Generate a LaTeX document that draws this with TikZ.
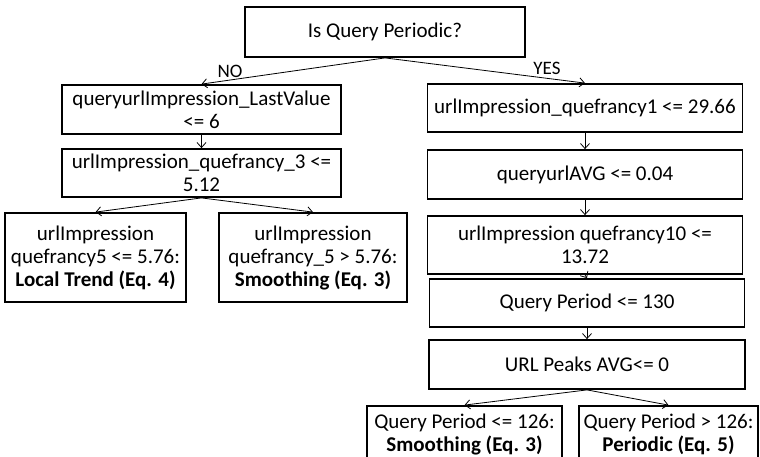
\documentclass[tikz,border=0pt]{standalone}
\usepackage{fontspec}
\setmainfont{Carlito}
\usetikzlibrary{arrows.meta}
\begin{document}
\begin{tikzpicture}[x=1pt,y=-1pt,
  box/.style={draw,line width=1.8pt,align=center,inner sep=0pt,font=\fontsize{21}{23}\selectfont},
  conn/.style={line width=0.8pt,-{Straight Barb[length=5pt,width=9pt]}},
  lbl/.style={font=\fontsize{19}{21}\selectfont,inner sep=0pt}]
\useasboundingbox (0,0) rectangle (760,456);
\node[box,minimum width=280pt,minimum height=50pt] (top) at (385,32) {Is Query Periodic?};
\node[box,minimum width=279pt,minimum height=49pt] (l1) at (201.5,109.5) {queryurlImpression\_LastValue\\<= 6};
\node[box,minimum width=279pt,minimum height=48pt] (l2) at (201.5,173) {urlImpression\_quefrancy\_3 <=\\5.12};
\node[box,minimum width=181pt,minimum height=89pt] (ll1) at (95.5,257.5) {urlImpression\\quefrancy5 <= 5.76:\\\textbf{Local Trend (Eq. 4)}};
\node[box,minimum width=188pt,minimum height=89pt] (ll2) at (313,257.5) {urlImpression\\quefrancy\_5 > 5.76:\\\textbf{Smoothing (Eq. 3)}};
\node[box,minimum width=315pt,minimum height=48pt] (r1) at (585,108) {urlImpression\_quefrancy1 <= 29.66};
\node[box,minimum width=315pt,minimum height=49pt] (r2) at (585,174.5) {queryurlAVG <= 0.04};
\node[box,minimum width=315pt,minimum height=58pt] (r3) at (585,245) {urlImpression quefrancy10 <=\\13.72};
\node[box,minimum width=315pt,minimum height=48pt] (r4) at (587,303) {Query Period <= 130};
\node[box,minimum width=316pt,minimum height=49pt] (r5) at (587,364.5) {URL Peaks AVG<= 0};
\node[box,minimum width=195pt,minimum height=56pt] (b1) at (464.5,434) {Query Period <= 126:\\\textbf{Smoothing (Eq. 3)}};
\node[box,minimum width=179pt,minimum height=56pt] (b2) at (668.5,434) {Query Period > 126:\\\textbf{Periodic (Eq. 5)}};
\node[lbl] (no) at (230,71) {NO};
\node[lbl] (yes) at (547,68) {YES};
\draw[conn] (top.south) -- (l1.north);
\draw[conn] (top.south) -- (r1.north);
\draw[conn] (l1.south) -- (l2.north);
\draw[conn] (l2.south) -- (ll1.north);
\draw[conn] (l2.south) -- (ll2.north);
\draw[conn] (r1.south) -- (r2.north);
\draw[conn] (r2.south) -- (r3.north);
\draw[conn] (r3.south) -- (r4.north);
\draw[conn] (r4.south) -- (r5.north);
\draw[conn] (r5.south) -- (b1.north);
\draw[conn] (r5.south) -- (b2.north);
\end{tikzpicture}
\end{document}
